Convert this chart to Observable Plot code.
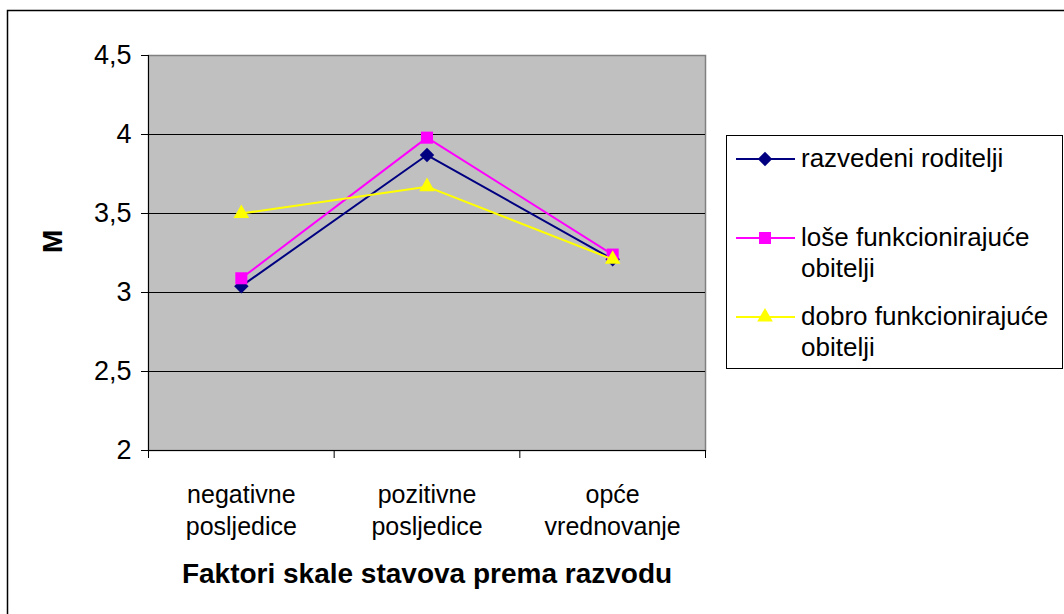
<!DOCTYPE html>
<html>
<head>
<meta charset="utf-8">
<script src="https://cdn.jsdelivr.net/npm/d3@7"></script>
<script src="https://cdn.jsdelivr.net/npm/@observablehq/plot@0.6"></script>
<style>
  html, body { margin: 0; padding: 0; background: #fff; }
  #chart { width: 1064px; height: 614px; overflow: hidden; }
</style>
</head>
<body>
<div id="chart"></div>
<script>
const categories = ["negativne\nposljedice", "pozitivne\nposljedice", "opće\nvrednovanje"];
const seriesNames = ["razvedeni roditelji", "loše funkcionirajuće\nobitelji", "dobro funkcionirajuće\nobitelji"];
const razvedeni = [3.04, 3.87, 3.21];
const lose = [3.09, 3.98, 3.24];
const dobro = [3.50, 3.67, 3.21];
const yTicks = [2, 2.5, 3, 3.5, 4, 4.5];
const gridTicks = [2.5, 3, 3.5, 4];
const yLabel = "M";
const xTitle = "Faktori skale stavova prema razvodu";
const colors = ["#000080", "#FF00FF", "#FFFF00"];
const symbols = ["diamond2", "square", "triangle"];
const radii = [6.5, 6.8, 5.8];

const seriesValues = [razvedeni, lose, dobro];
const boundaries = d3.range(categories.length + 1);
const font = "'Liberation Sans', Arial, sans-serif";

const seriesMarks = [];
seriesValues.forEach((vals, s) => {
  const rows = vals.map((v, i) => ({x: i + 0.5, y: v}));
  seriesMarks.push(Plot.line(rows, {x: "x", y: "y", stroke: colors[s], strokeWidth: 2}));
  seriesMarks.push(Plot.dot(rows, {x: "x", y: "y", symbol: () => symbols[s], fill: colors[s], stroke: "none", r: radii[s]}));
});

const plot = Plot.plot({
  width: 1064,
  height: 614,
  marginLeft: 148,
  marginRight: 359,
  marginTop: 55,
  marginBottom: 164,
  style: {fontFamily: font, background: "#fff", overflow: "visible"},
  x: {domain: [0, categories.length]},
  y: {domain: [2, 4.5]},
  symbol: {type: "identity"},
  marks: [
    Plot.frame({fill: "#C0C0C0", stroke: "#808080", strokeWidth: 1.5}),
    Plot.ruleY(gridTicks, {stroke: "#000", strokeWidth: 1}),
    Plot.ruleX([0], {stroke: "#000", strokeWidth: 1}),
    Plot.ruleY([2], {stroke: "#000", strokeWidth: 1}),
    Plot.axisY({ticks: yTicks, tickFormat: d => String(d).replace(".", ","), tickSize: 7, tickPadding: 10, fontSize: 27, label: null, stroke: "#000", fill: "#000"}),
    Plot.axisX({ticks: boundaries, tickFormat: () => "", tickSize: 8, label: null, stroke: "#000"}),
    Plot.text(categories, {x: (d, i) => i + 0.5, y: () => 2, text: d => d, dy: 58, lineHeight: 1.28, fontSize: 25, fill: "#000", lineAnchor: "middle"}),
    ...seriesMarks,
    Plot.text([xTitle], {frameAnchor: "bottom", dy: 132, fontSize: 28, fontWeight: "bold", fill: "#000"}),
    Plot.text([yLabel], {frameAnchor: "left", dx: -95, rotate: -90, fontSize: 28, fontWeight: "bold", fill: "#000"})
  ]
});

const svg = d3.select(plot);
// outer chart border
svg.insert("rect", ":first-child")
  .attr("x", 7.5).attr("y", 10.5).attr("width", 1100).attr("height", 700)
  .attr("fill", "#fff").attr("stroke", "#000").attr("stroke-width", 1.5);

// legend
const lg = svg.append("g").attr("font-family", font).attr("font-size", 26).attr("text-anchor", "start");
lg.append("rect").attr("x", 726.5).attr("y", 135.5).attr("width", 336).attr("height", 233)
  .attr("fill", "#fff").attr("stroke", "#000").attr("stroke-width", 1);
const rowY = [159, 238, 317];
const d3sym = {diamond2: d3.symbolDiamond2, square: d3.symbolSquare, triangle: d3.symbolTriangle};
seriesNames.forEach((name, s) => {
  const y = rowY[s];
  lg.append("line").attr("x1", 736).attr("x2", 795).attr("y1", y).attr("y2", y)
    .attr("stroke", colors[s]).attr("stroke-width", 2);
  lg.append("path").attr("transform", `translate(765,${y})`)
    .attr("d", d3.symbol(d3sym[symbols[s]], Math.PI * radii[s] * radii[s])())
    .attr("fill", colors[s]);
  const t = lg.append("text").attr("x", 801).attr("y", y).attr("fill", "#000").attr("text-anchor", "start");
  name.split("\n").forEach((line, k) => {
    t.append("tspan").attr("x", 801).attr("dy", k === 0 ? "0.32em" : 31).text(line);
  });
});

document.getElementById("chart").appendChild(plot);
</script>
</body>
</html>
